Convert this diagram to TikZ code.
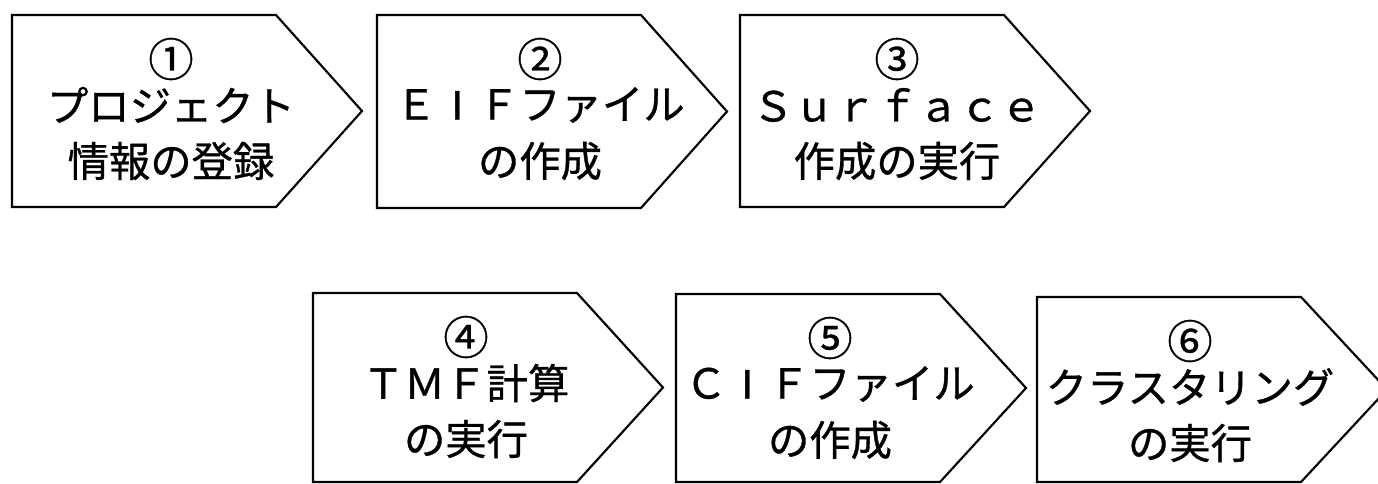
\documentclass[tikz,border=0pt]{standalone}
\usepackage{fontspec}
\newfontfamily\jpfont[FakeBold=0.8]{Noto Sans CJK JP}
\newfontfamily\latinsans[FakeBold=0.8]{Liberation Sans}
\newcommand\fwI{\makebox[1em]{\latinsans I}}
\tikzset{
  stepshape/.style={draw=black, line width=1.6pt, line join=miter, fill=white},
  numtext/.style={font=\jpfont\fontsize{34}{36}\selectfont, inner sep=0pt},
  labeltext/.style={font=\jpfont\fontsize{31}{36}\selectfont, inner sep=0pt},
}
% #1 name, #2 left, #3 top, #4 bottom, #5 text centre x, #6 number, #7 line a, #8 line b
\newcommand\flowstep[8]{%
  \draw[stepshape] (#2,#3) -- ({#2+264},#3) -- ({#2+350},{(#3+#4)/2}) -- ({#2+264},#4) -- (#2,#4) -- cycle;
  \node[numtext] (#1-num) at (#5,{#3+44}) {#6};
  \node[labeltext] (#1-a) at (#5,{#3+90}) {#7};
  \node[labeltext] (#1-b) at (#5,{#3+146}) {#8};
}
\begin{document}
\begin{tikzpicture}[x=0.75pt,y=-0.75pt]
  \clip (0,0) rectangle (1378,483);
  \fill[white] (0,0) rectangle (1378,483);
  \flowstep{s1}{12}{15}{207}{171}{①}{プロジェクト}{情報の登録}
  \flowstep{s2}{377}{15}{208}{540}{②}{Ｅ\fwI{}Ｆファイル}{の作成}
  \flowstep{s3}{740}{15}{207}{897}{③}{Ｓｕｒｆａｃｅ}{作成の実行}
  \flowstep{s4}{313}{293}{482}{466}{④}{ＴＭＦ計算}{の実行}
  \flowstep{s5}{676}{294}{482}{830}{⑤}{Ｃ\fwI{}Ｆファイル}{の作成}
  \flowstep{s6}{1037}{297}{482}{1190}{⑥}{クラスタリング}{の実行}
\end{tikzpicture}
\end{document}
